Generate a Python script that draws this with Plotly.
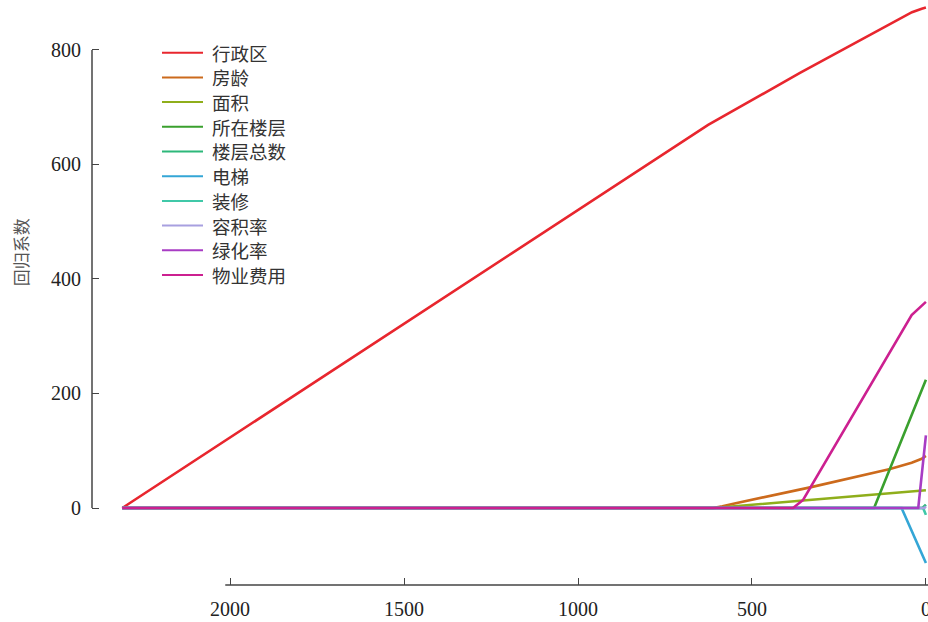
import plotly.graph_objects as go

# LASSO coefficient paths: penalty (x) vs. regression coefficient (y)
names = ["行政区", "房龄", "面积", "所在楼层", "楼层总数", "电梯", "装修", "容积率", "绿化率", "物业费用"]
colors = ["#e8262e", "#cc6a1c", "#8fae1b", "#3aa02e", "#2db87a",
          "#34a6d6", "#40c8a8", "#a8a0e0", "#a83cc4", "#cc2090"]

x_xzq = [2310, 626, 362, 132, 40, 12, 0]
y_xzq = [0, 669, 760, 835, 866, 872, 874]

x_fl = [2310, 612, 585, 550, 333, 103, 41, 12, 0]
y_fl = [0, 0, 3, 8, 36, 68, 79, 86, 91]

x_mj = [2310, 610, 353, 0]
y_mj = [0, 0, 13, 31]

x_szlc = [2310, 149, 0]
y_szlc = [0, 0, 224]

x_lczs = [2310, 10, 0]
y_lczs = [0, 0, 6]

x_dt = [2310, 70, 0]
y_dt = [0, 0, -96]

x_zx = [2310, 8, 0]
y_zx = [0, 0, -12]

x_rjl = [2310, 4, 0]
y_rjl = [0, 0, 3]

x_lhl = [2310, 22, 0]
y_lhl = [0, 0, 127]

x_wyfy = [2310, 382, 353, 41, 0]
y_wyfy = [0, 0, 14, 337, 360]

xs = [x_xzq, x_fl, x_mj, x_szlc, x_lczs, x_dt, x_zx, x_rjl, x_lhl, x_wyfy]
ys = [y_xzq, y_fl, y_mj, y_szlc, y_lczs, y_dt, y_zx, y_rjl, y_lhl, y_wyfy]

x_ticks = [0, 500, 1000, 1500, 2000]
y_ticks = [0, 200, 400, 600, 800]

W, H = 928, 622
ML, MR, MT, MB = 92, 0, 0, 37
PW, PH = W - ML - MR, H - MT - MB

fig = go.Figure()
for name, color, xv, yv in zip(names, colors, xs, ys):
    fig.add_trace(go.Scatter(x=xv, y=yv, mode="lines", name=name, showlegend=False,
                             line=dict(color=color, width=2.6)))

axis_font = dict(family="Liberation Serif, Times New Roman, serif", size=20, color="#222222")
line_col = "#444444"

fig.update_layout(
    width=W, height=H,
    margin=dict(l=ML, r=MR, t=MT, b=MB, autoexpand=False),
    plot_bgcolor="white", paper_bgcolor="white",
    xaxis=dict(range=[2397, -6], tickvals=x_ticks, ticktext=[str(v) for v in x_ticks],
               ticks="inside", ticklen=7, tickwidth=1.2, tickcolor=line_col,
               showgrid=False, zeroline=False, showline=False, automargin=False,
               tickfont=axis_font, ticklabelstandoff=10, ticklabeloverflow="allow"),
    yaxis=dict(range=[-134.5, 887.3], tickvals=y_ticks, ticktext=[str(v) for v in y_ticks],
               ticks="inside", ticklen=7, tickwidth=1.2, tickcolor=line_col,
               showgrid=False, zeroline=False, showline=False, automargin=False,
               tickfont=axis_font, ticklabelstandoff=10),
)

# axis lines span only the tick range
fig.add_shape(type="line", xref="paper", yref="y", x0=0, x1=0,
              y0=min(y_ticks), y1=max(y_ticks), line=dict(color=line_col, width=1.5))
fig.add_shape(type="line", xref="x", yref="paper", x0=max(x_ticks) + 14, x1=min(x_ticks) - 6,
              y0=0, y1=0, line=dict(color=line_col, width=1.5))

fig.add_annotation(text="回归系数", xref="paper", yref="paper", x=0, y=0.569,
                   xshift=-72, xanchor="center", yanchor="middle", textangle=-90,
                   showarrow=False,
                   font=dict(family="Noto Sans CJK SC", size=17, color="#555555"))

# legend: short line sample + label per series
leg_top, leg_step = 52.7, 24.7
lx0, lx1, tx = 162, 203, 210
for i, (name, color) in enumerate(zip(names, colors)):
    yp = (H - MB - (leg_top + i * leg_step)) / PH
    fig.add_shape(type="line", xref="paper", yref="paper",
                  x0=(lx0 - ML) / PW, x1=(lx1 - ML) / PW, y0=yp, y1=yp,
                  line=dict(color=color, width=2))
    fig.add_annotation(text=name, xref="paper", yref="paper", x=(tx - ML) / PW, y=yp,
                       xanchor="left", yanchor="middle", showarrow=False,
                       font=dict(family="Noto Sans CJK SC", size=18.5, color="#333333"))

fig.write_html("out.html")
